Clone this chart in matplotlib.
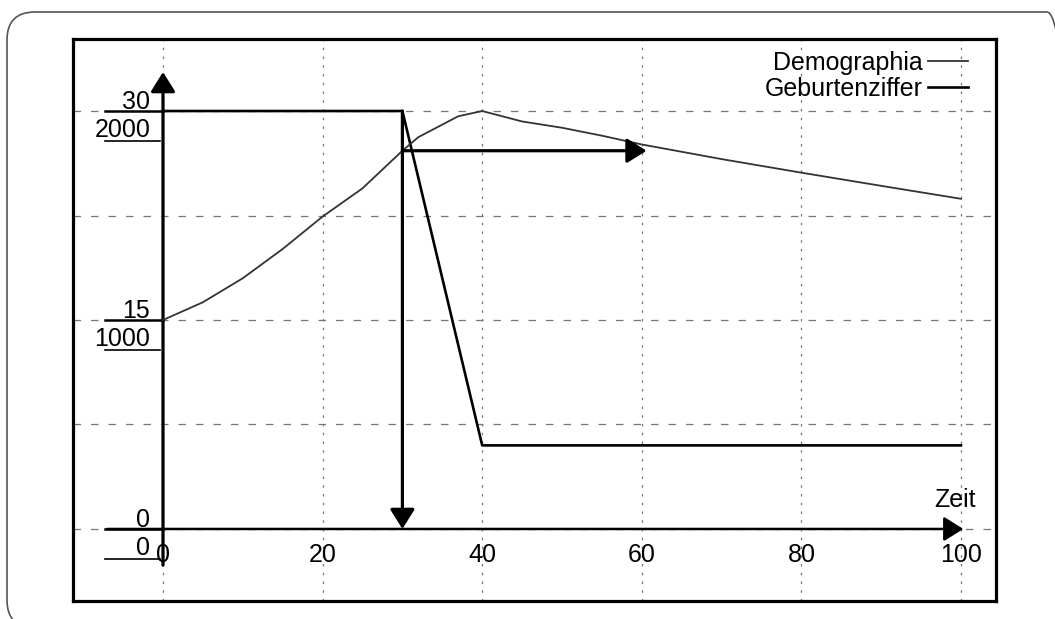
import numpy as np
import matplotlib.pyplot as plt
from matplotlib.patches import FancyBboxPatch
from matplotlib.transforms import IdentityTransform

plt.rcParams['font.family'] = ['Liberation Sans', 'DejaVu Sans']

# data
t_demo = [0, 5, 10, 15, 20, 25, 30, 32, 35, 37, 40, 45, 50, 55, 60, 70, 80, 90, 100]
demographia = [1000, 1085, 1200, 1340, 1495, 1630, 1810, 1875, 1935, 1975, 2000,
               1950, 1920, 1882, 1840, 1770, 1705, 1642, 1580]
t_geb = [0, 30, 40, 100]
geburtenziffer = [30, 30, 6, 6]

zeit_ticks = [0, 20, 40, 60, 80, 100]
grid_levels = [0, 7.5, 15, 22.5, 30]
label_levels = [0, 15, 30]
geb_labels = ['0', '15', '30']
demo_labels = ['0', '1000', '2000']

t_drop = 30      # birth rate falls here
t_target = 60    # horizontal arrow ends here

SCALE = 2000 / 30   # Demographia units per Geburtenziffer unit
FS = 18

fig = plt.figure(figsize=(10.55, 6.19), dpi=100)

# rounded outer box (cut by the image edge)
box = FancyBboxPatch((7, -9), 1068, 616, boxstyle="round,pad=0,rounding_size=28",
                     transform=IdentityTransform(), fill=False, ec='#555555', lw=1.2)
fig.add_artist(box)

ax = fig.add_axes([73/1055, 18/619, 923/1055, 562/619])
ax.set_xlim(-11.28, 104.39)
ax.set_ylim(-5.17, 35.17)
for s in ax.spines.values():
    s.set_linewidth(2.3)
ax.set_xticks(zeit_ticks)
ax.set_yticks(grid_levels)
ax.tick_params(length=0, labelbottom=False, labelleft=False)
ax.grid(axis='x', color='#777777', lw=0.9, dashes=(2, 5))
ax.grid(axis='y', color='#777777', lw=0.9, dashes=(6, 8))

ax2 = ax.twinx()
ax2.set_ylim(ax.get_ylim()[0] * SCALE, ax.get_ylim()[1] * SCALE)
ax2.set_axis_off()

arrow = dict(arrowstyle='-|>,head_length=0.4,head_width=0.25', color='k',
             mutation_scale=30, shrinkA=0, shrinkB=0)

# coordinate axes with arrows
ax.annotate('', xy=(100.3, 0), xytext=(-7, 0), arrowprops=dict(arrow, lw=1.8))
ax.annotate('', xy=(0, 32.8), xytext=(0, -2.6), arrowprops=dict(arrow, lw=2.3))

l_demo, = ax2.plot(t_demo, demographia, color='#333333', lw=1.3, label='Demographia')
l_geb, = ax.plot(t_geb, geburtenziffer, color='k', lw=1.9, label='Geburtenziffer')

# arrows
ax.annotate('', xy=(t_drop, 0), xytext=(t_drop, geburtenziffer[1]),
            arrowprops=dict(arrow, lw=2.3))
d_drop = np.interp(t_drop, t_demo, demographia)
ax2.annotate('', xy=(t_target + 0.6, d_drop), xytext=(t_drop, d_drop),
             arrowprops=dict(arrow, lw=2.3))

# y labels: Geburtenziffer above, Demographia below
for lev, g, d in zip(label_levels, geb_labels, demo_labels):
    ax.plot([-7.3, 0], [lev, lev], color='k', lw=1.8)
    ax.plot([-7.3, -0.4], [lev - 2.15, lev - 2.15], color='k', lw=1.2)
    ax.text(-1.6, lev + 0.15, g, ha='right', va='baseline', fontsize=FS)
    ax.text(-1.6, lev - 1.87, d, ha='right', va='baseline', fontsize=FS)

for t in zeit_ticks:
    ax.text(t, -2.37, str(t), ha='center', va='baseline', fontsize=FS)
ax.text(101.9, 1.58, 'Zeit', ha='right', va='baseline', fontsize=FS)

ax.legend([l_demo, l_geb], ['Demographia', 'Geburtenziffer'], loc='upper left',
          bbox_to_anchor=(0.7497, 0.979), frameon=False, markerfirst=False,
          fontsize=FS, handlelength=1.6, handletextpad=0.2, labelspacing=0.08,
          borderpad=0, borderaxespad=0)

fig.savefig('out.png', dpi=100)
